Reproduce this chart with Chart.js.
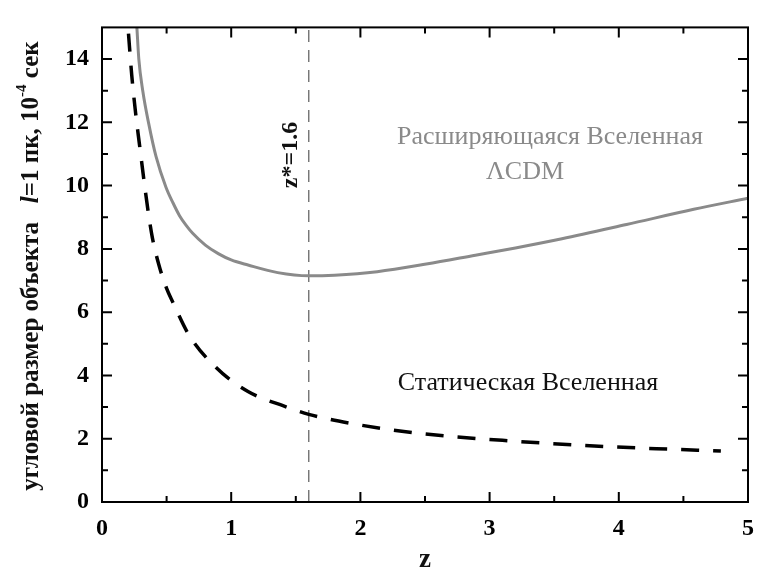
<!DOCTYPE html>
<html>
<head>
<meta charset="utf-8">
<script src="https://cdn.jsdelivr.net/npm/chart.js@4.4.1/dist/chart.umd.min.js"></script>
<style>
  html, body { margin: 0; padding: 0; background: #fff; }
  #wrap { width: 766px; height: 571px; }
</style>
</head>
<body>
<div id="wrap"><canvas id="chart" width="766" height="571"></canvas></div>
<script>
// Expanding universe (LambdaCDM): redshift and angular size, 10^-4 sec
const zLcdm = [0.27, 0.285, 0.316, 0.362, 0.418, 0.495, 0.55, 0.6, 0.65, 0.7, 0.8, 0.9, 1.0, 1.13, 1.36, 1.6, 1.8, 2.13, 2.51, 2.89, 3.2, 3.56, 4.06, 4.58, 5.0];
const thetaLcdm = [15, 14.0, 12.98, 11.95, 10.92, 9.95, 9.45, 9.05, 8.75, 8.5, 8.12, 7.85, 7.65, 7.49, 7.25, 7.15, 7.17, 7.28, 7.52, 7.8, 8.03, 8.32, 8.77, 9.25, 9.6];

// Static universe
const zStatic = [0.205, 0.23, 0.26, 0.29, 0.33, 0.36, 0.39, 0.44, 0.5, 0.55, 0.67, 0.88, 1.13, 1.41, 1.6, 1.92, 2.43, 3.2, 3.96, 4.47, 4.79];
const thetaStatic = [14.8, 13.5, 12.3, 11.3, 10.0, 9.1, 8.35, 7.5, 6.75, 6.3, 5.3, 4.26, 3.49, 3.03, 2.77, 2.49, 2.18, 1.92, 1.74, 1.66, 1.61];

// Minimum of the angular size
const zStar = 1.6;

// Axis ticks
const xTicks = [0, 1, 2, 3, 4, 5];
const yTicks = [0, 2, 4, 6, 8, 10, 12, 14];
const xMinor = [0.5, 1.5, 2.5, 3.5, 4.5];
const yMinor = [1, 3, 5, 7, 9, 11, 13];

const SERIF = '"Liberation Serif", "Times New Roman", serif';

function toPoints(xs, ys) {
  return xs.map((x, i) => ({ x: x, y: ys[i] }));
}

// Frame, inward ticks on all four sides and the text labels
const framePlugin = {
  id: 'frame',
  afterDatasetsDraw(chart) {
    const ctx = chart.ctx;
    const area = chart.chartArea;
    const xs = chart.scales.x;
    const ys = chart.scales.y;

    ctx.save();
    ctx.strokeStyle = '#000';
    ctx.lineWidth = 2;
    ctx.strokeRect(area.left, area.top, area.right - area.left, area.bottom - area.top);

    const tick = (vals, len, isX) => {
      vals.forEach(v => {
        ctx.beginPath();
        if (isX) {
          const px = xs.getPixelForValue(v);
          ctx.moveTo(px, area.bottom); ctx.lineTo(px, area.bottom - len);
          ctx.moveTo(px, area.top); ctx.lineTo(px, area.top + len);
        } else {
          const py = ys.getPixelForValue(v);
          ctx.moveTo(area.left, py); ctx.lineTo(area.left + len, py);
          ctx.moveTo(area.right, py); ctx.lineTo(area.right - len, py);
        }
        ctx.stroke();
      });
    };
    tick(xTicks, 10, true);
    tick(xMinor, 6, true);
    tick(yTicks, 10, false);
    tick(yMinor, 6, false);

    // annotations
    ctx.textAlign = 'center';
    ctx.textBaseline = 'middle';
    ctx.fillStyle = '#8a8a8a';
    ctx.font = '26px ' + SERIF;
    ctx.fillText('Расширяющаяся Вселенная', 550, 137);
    ctx.fillText('ΛCDM', 525, 172);

    ctx.fillStyle = '#111';
    ctx.fillText('Статическая Вселенная', 528, 383);

    ctx.save();
    ctx.translate(291, 155);
    ctx.rotate(-Math.PI / 2);
    ctx.font = 'bold 24px ' + SERIF;
    ctx.fillText('z*=1.6', 0, 0);
    ctx.restore();

    // x axis title
    ctx.font = 'bold 27px ' + SERIF;
    ctx.fillText('z', (area.left + area.right) / 2, 560);

    // y axis title with italic l and superscript
    const parts = [
      { t: 'угловой размер объекта   ', f: 'bold 25px ' + SERIF, dy: 0 },
      { t: 'l', f: 'italic bold 25px ' + SERIF, dy: 0 },
      { t: '=1 пк, 10', f: 'bold 25px ' + SERIF, dy: 0 },
      { t: '-4', f: 'bold 15px ' + SERIF, dy: -10 },
      { t: ' сек', f: 'bold 25px ' + SERIF, dy: 0 }
    ];
    let total = 0;
    parts.forEach(p => { ctx.font = p.f; p.w = ctx.measureText(p.t).width; total += p.w; });
    ctx.save();
    ctx.translate(32, 266);
    ctx.rotate(-Math.PI / 2);
    ctx.textAlign = 'left';
    let pos = -total / 2;
    parts.forEach(p => {
      ctx.font = p.f;
      ctx.fillText(p.t, pos, p.dy);
      pos += p.w;
    });
    ctx.restore();

    ctx.restore();
  }
};

const ctx = document.getElementById('chart').getContext('2d');
const chart = new Chart(ctx, {
  type: 'scatter',
  data: {
    datasets: [
      {
        label: 'ΛCDM',
        data: toPoints(zLcdm, thetaLcdm),
        showLine: true,
        borderColor: '#8a8a8a',
        borderWidth: 3,
        pointRadius: 0,
        cubicInterpolationMode: 'monotone'
      },
      {
        label: 'static',
        data: toPoints(zStatic, thetaStatic),
        showLine: true,
        borderColor: '#000',
        borderWidth: 3.5,
        borderDash: [18, 14],
        pointRadius: 0,
        cubicInterpolationMode: 'monotone'
      },
      {
        label: 'z*',
        data: [{ x: zStar, y: 0 }, { x: zStar, y: 15 }],
        showLine: true,
        borderColor: '#777',
        borderWidth: 1.5,
        borderDash: [12, 8],
        pointRadius: 0
      }
    ]
  },
  options: {
    responsive: false,
    animation: false,
    layout: { padding: { top: 15, right: 10, left: 0, bottom: 0 } },
    plugins: {
      legend: { display: false },
      tooltip: { enabled: false }
    },
    scales: {
      x: {
        type: 'linear',
        min: 0,
        max: 5,
        grid: { display: false, drawTicks: false },
        border: { display: false },
        afterBuildTicks: s => { s.ticks = xTicks.map(v => ({ value: v })); },
        afterFit: s => { s.height = 69; },
        ticks: {
          color: '#000',
          padding: 12,
          maxRotation: 0,
          font: { family: SERIF, size: 24, weight: 'bold' }
        }
      },
      y: {
        type: 'linear',
        min: 0,
        max: 15,
        grid: { display: false, drawTicks: false },
        border: { display: false },
        afterBuildTicks: s => { s.ticks = yTicks.map(v => ({ value: v })); },
        afterFit: s => { s.width = 102; },
        ticks: {
          color: '#000',
          padding: 13,
          font: { family: SERIF, size: 24, weight: 'bold' }
        }
      }
    }
  },
  plugins: [framePlugin]
});
</script>
</body>
</html>
